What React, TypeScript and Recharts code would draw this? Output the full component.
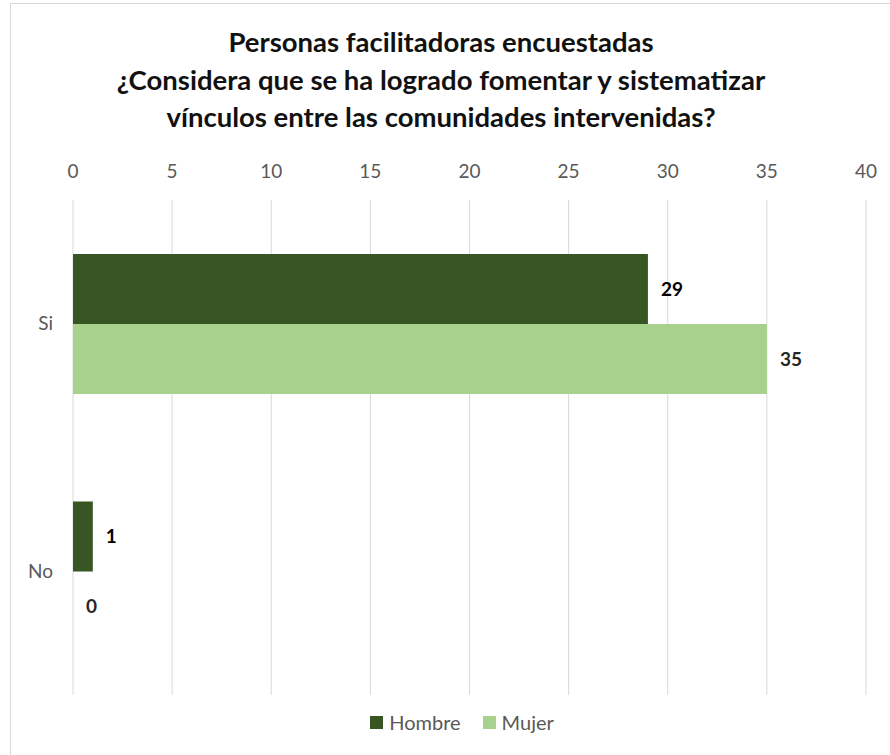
import React from 'react';
import { BarChart, Bar, XAxis, YAxis, CartesianGrid, Legend, LabelList } from 'recharts';

const categories: string[] = ['Si', 'No'];
const hombre: number[] = [29, 1];
const mujer: number[] = [35, 0];
const xTicks: number[] = [0, 5, 10, 15, 20, 25, 30, 35, 40];

const data = categories.map((name, i) => ({
  name,
  Hombre: hombre[i],
  Mujer: mujer[i],
}));

const FONT = 'Lato, "Open Sans", sans-serif';

const titleLines = [
  'Personas facilitadoras encuestadas',
  '¿Considera que se ha logrado fomentar y sistematizar',
  'vínculos entre las comunidades intervenidas?',
];

const series = [
  { key: 'Hombre', color: '#375623' },
  { key: 'Mujer', color: '#a9d18e' },
];

// label placed from the real value end, so zero bars still get "0"
const makeLabel = (color: string) => (props: any) => {
  const { x, y, width, height, value } = props;
  const w = Number(value) === 0 ? 0 : Number(width);
  return (
    <text
      x={Number(x) + w + 13}
      y={Number(y) + Number(height) / 2}
      dy="0.35em"
      fill={color}
      fontWeight={700}
      fontSize={19}
      fontFamily={FONT}
      textAnchor="start"
    >
      {value}
    </text>
  );
};

// hide the min-size stub drawn for zero values
const BarShape = (props: any) => {
  const { x, y, width, height, fill, value } = props;
  const v = Array.isArray(value) ? value[1] - value[0] : value;
  if (!v) return null;
  return <rect x={x} y={y} width={width} height={height} fill={fill} />;
};

const LegendContent = () => (
  <div style={{ display: 'flex', justifyContent: 'center', alignItems: 'center', fontFamily: FONT, fontSize: 20, color: '#595959' }}>
    {series.map((s) => (
      <div key={s.key} style={{ display: 'flex', alignItems: 'center', margin: '0 11px' }}>
        <span style={{ display: 'inline-block', width: 13, height: 13, background: s.color, marginRight: 6 }} />
        <span>{s.key}</span>
      </div>
    ))}
  </div>
);

export default function App() {
  return (
    <div style={{ position: 'absolute', left: 0, top: 0, width: 890, height: 755, background: '#fff', fontFamily: FONT }}>
      <div
        style={{
          position: 'absolute',
          left: 10,
          top: 3,
          width: 900,
          height: 800,
          borderLeft: '1px solid #d9d9d9',
          borderTop: '1px solid #d9d9d9',
        }}
      />
      <div
        style={{
          position: 'absolute',
          left: 10,
          top: 23,
          width: 862,
          textAlign: 'center',
          fontWeight: 700,
          fontSize: 27.5,
          lineHeight: '37.5px',
          color: '#111',
        }}
      >
        {titleLines.map((t) => (
          <div key={t}>{t}</div>
        ))}
      </div>
      <div style={{ position: 'absolute', left: 0, top: 0 }}>
        <BarChart
          width={890}
          height={755}
          data={data}
          layout="vertical"
          barGap={0}
          barSize={70}
          margin={{ top: 170, right: 24, left: 13, bottom: 36 }}
        >
          <CartesianGrid horizontal={false} vertical={true} stroke="#d9d9d9" />
          <XAxis
            type="number"
            orientation="top"
            domain={[0, 40]}
            ticks={xTicks}
            axisLine={false}
            tickLine={false}
            tickSize={0}
            tickMargin={22}
            height={30}
            tick={{ fill: '#595959', fontSize: 19, fontFamily: FONT }}
          />
          <YAxis
            type="category"
            dataKey="name"
            width={60}
            axisLine={false}
            tickLine={false}
            tickSize={0}
            tickMargin={20}
            tick={{ fill: '#595959', fontSize: 19, fontFamily: FONT }}
          />
          <Legend verticalAlign="bottom" content={LegendContent} wrapperStyle={{ top: 710, left: 17, width: 890 }} />
          <Bar dataKey="Hombre" fill="#375623" isAnimationActive={false}>
            <LabelList dataKey="Hombre" content={makeLabel('#000')} />
          </Bar>
          <Bar dataKey="Mujer" fill="#a9d18e" minPointSize={1} shape={BarShape} isAnimationActive={false}>
            <LabelList dataKey="Mujer" content={makeLabel('#262626')} />
          </Bar>
        </BarChart>
      </div>
    </div>
  );
}
